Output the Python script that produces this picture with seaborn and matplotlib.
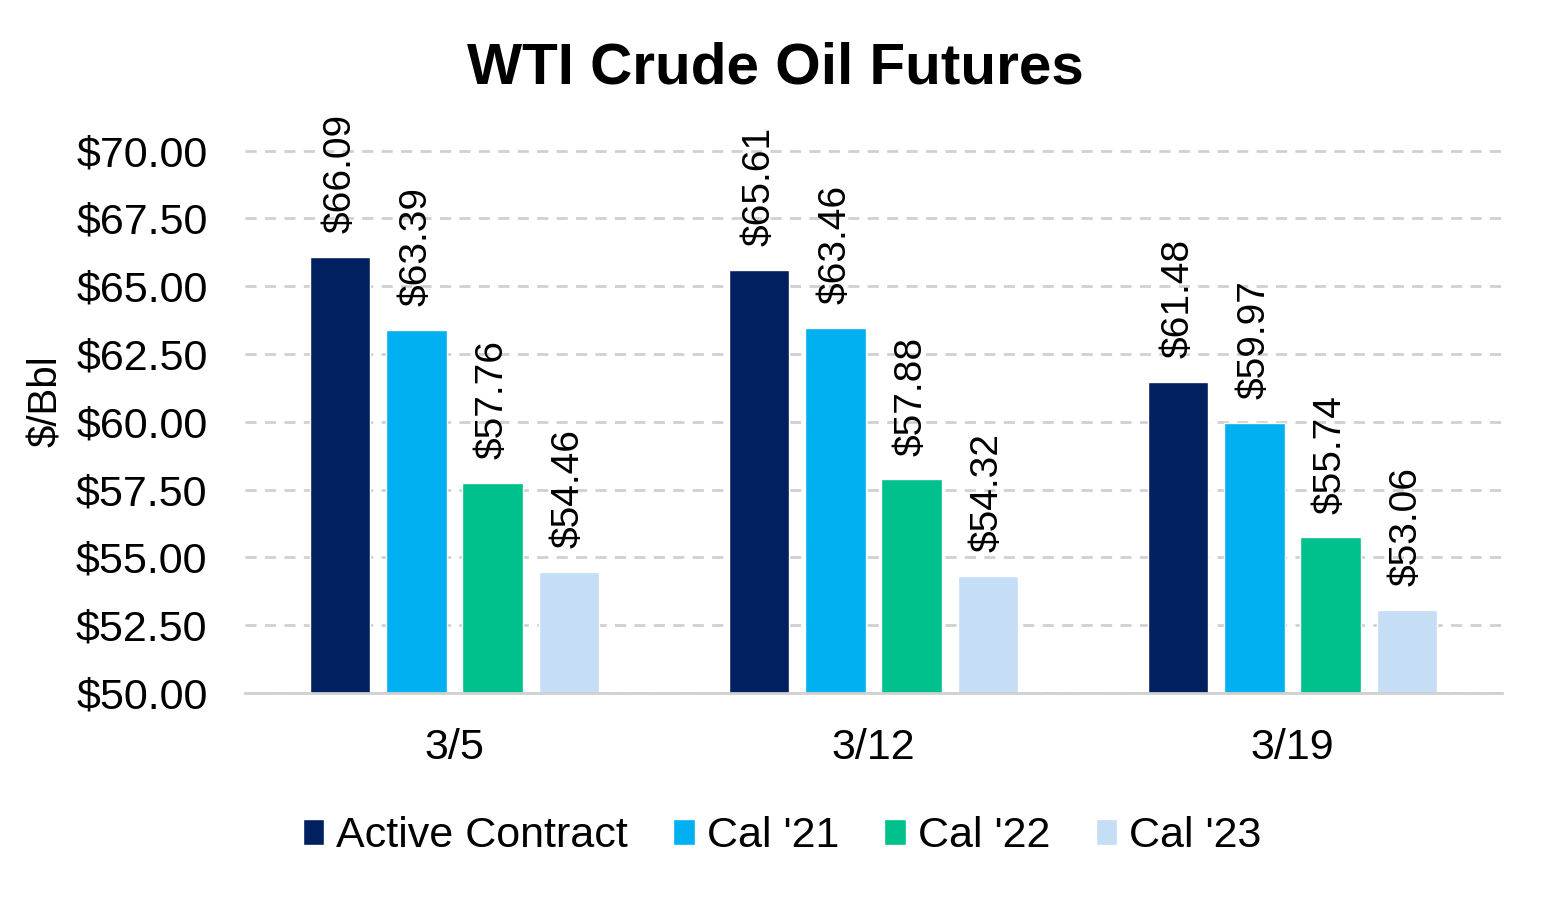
import matplotlib
matplotlib.use("Agg")
import matplotlib.pyplot as plt
import seaborn as sns
import pandas as pd
from matplotlib.ticker import FixedLocator

# data
dates = ["3/5", "3/12", "3/19"]
series = ["Active Contract", "Cal '21", "Cal '22", "Cal '23"]
active = [66.09, 65.61, 61.48]
cal21 = [63.39, 63.46, 59.97]
cal22 = [57.76, 57.88, 55.74]
cal23 = [54.46, 54.32, 53.06]
colors = ["#002060", "#00B0F0", "#00C08B", "#C5DDF5"]
yticks = [50, 52.5, 55, 57.5, 60, 62.5, 65, 67.5, 70]

df = pd.DataFrame({
    "date": dates * 4,
    "series": [s for s in series for _ in dates],
    "price": active + cal21 + cal22 + cal23,
})

sns.set_theme(style="white")
plt.rcParams["font.family"] = ["Liberation Sans", "DejaVu Sans"]
plt.rcParams["text.color"] = "black"
plt.rcParams["xtick.color"] = "black"
plt.rcParams["ytick.color"] = "black"
plt.rcParams["axes.labelcolor"] = "black"

fig = plt.figure(figsize=(15.5, 9), dpi=100)
ax = fig.add_axes([245 / 1550, 1 - 693 / 900, 1257 / 1550, (693 - 110) / 900])

sns.barplot(data=df, x="date", y="price", hue="series", palette=colors,
            saturation=1, width=0.727, gap=0.21, ax=ax, legend=True)

ax.set_ylim(50, 71.5)
ax.set_xlim(-0.5, 2.5)
ax.yaxis.set_major_locator(FixedLocator(yticks))
ax.set_yticklabels([f"${v:.2f}" for v in yticks], fontsize=31)
ax.tick_params(axis="x", labelsize=31, pad=25, length=0)
ax.tick_params(axis="y", length=0, pad=27)
ax.set_xlabel("")
ax.set_ylabel("$/Bbl", fontsize=29, labelpad=8)

ax.grid(axis="y", color="#D0D0D0", linestyle=(0, (4, 3)), linewidth=2)
ax.set_axisbelow(True)
for side in ["top", "right", "left"]:
    ax.spines[side].set_visible(False)
ax.spines["bottom"].set_color("#D0D0D0")
ax.spines["bottom"].set_linewidth(2)

for cont in ax.containers:
    ax.bar_label(cont, labels=[f"${b.get_height():.2f}" for b in cont],
                 rotation=90, padding=17, fontsize=28)

ax.legend(loc="center", bbox_to_anchor=(782 / 1550, 1 - 836 / 900),
          bbox_transform=fig.transFigure, ncol=4, frameon=False,
          fontsize=31, handlelength=0.5, handleheight=0.55,
          handletextpad=0.28, columnspacing=1.05)

fig.suptitle("WTI Crude Oil Futures", fontsize=42, fontweight="bold",
             x=775 / 1550, y=1 - 68 / 900, va="center")

fig.savefig("out.png", dpi=100)
